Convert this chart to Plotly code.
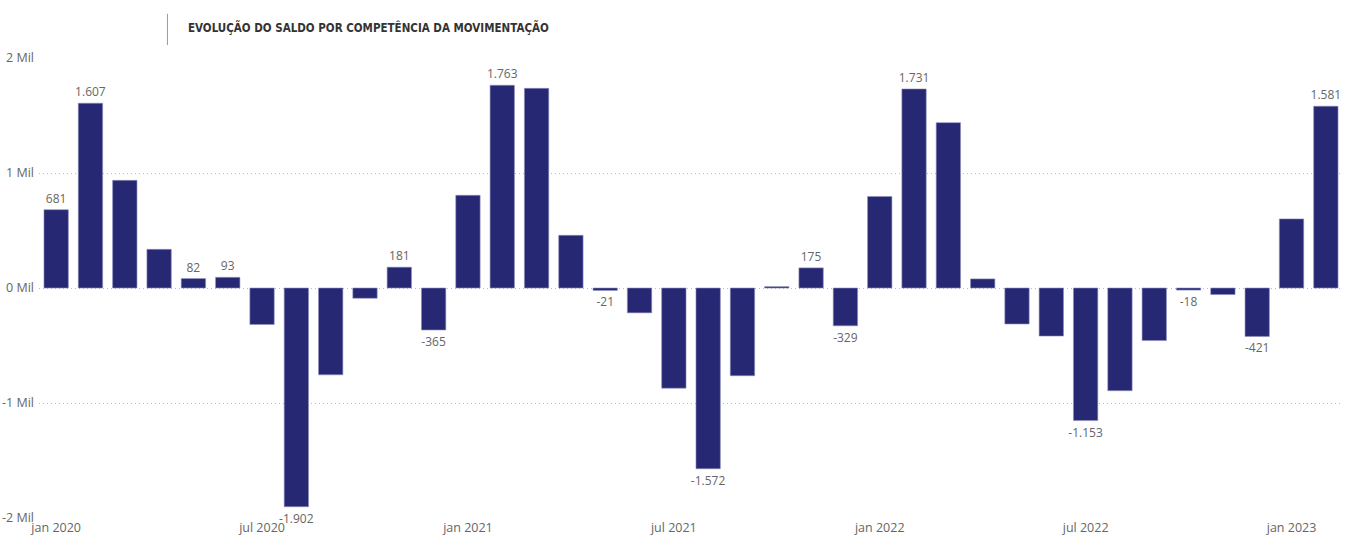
import plotly.graph_objects as go

# meses (competência) e saldo da movimentação
meses = ['jan', 'fev', 'mar', 'abr', 'mai', 'jun', 'jul', 'ago', 'set', 'out', 'nov', 'dez']
periodos = [m + ' ' + str(a) for a in (2020, 2021, 2022) for m in meses] + ['jan 2023', 'fev 2023']

saldo = [681, 1607, 936, 336, 82, 93, -317, -1902, -755, -89, 181, -365,
         806, 1763, 1736, 458, -21, -216, -871, -1572, -763, 12, 175, -329,
         796, 1731, 1438, 79, -313, -418, -1153, -893, -457, -18, -57, -421,
         601, 1581]

# quais barras mostram rótulo de dados
rotulo = [1, 1, 0, 0, 1, 1, 0, 1, 0, 0, 1, 1,
          0, 1, 0, 0, 1, 0, 0, 1, 0, 0, 1, 1,
          0, 1, 0, 0, 0, 0, 1, 0, 0, 1, 0, 1,
          0, 1]

ticks_x = ['jan 2020', 'jul 2020', 'jan 2021', 'jul 2021', 'jan 2022', 'jul 2022', 'jan 2023']
ticks_y = [-2000, -1000, 0, 1000, 2000]
ticks_y_txt = ['-2 Mil', '-1 Mil', '0 Mil', '1 Mil', '2 Mil']


def fmt(v):
    return '{:,}'.format(v).replace(',', '.')


textos = [fmt(v) if r else '' for v, r in zip(saldo, rotulo)]

fig = go.Figure(go.Bar(
    x=periodos, y=saldo, text=textos, textposition='outside', constraintext='none',
    marker=dict(color='#262873', line=dict(color='#8f91c0', width=0.6)),
    textfont=dict(family='Open Sans', size=12, color='#666666'),
    cliponaxis=False,
))

fig.update_layout(
    width=1357, height=543,
    margin=dict(l=39, r=14, t=58, b=25),
    plot_bgcolor='white', paper_bgcolor='white',
    bargap=0.29, showlegend=False,
    font=dict(family='Open Sans', color='#666666'),
    shapes=[dict(type='line', xref='paper', yref='paper', x0=0.0985, x1=0.0985,
                 y0=1.028, y1=1.096, line=dict(color='#999999', width=1))],
    annotations=[dict(text='<b>EVOLUÇÃO DO SALDO POR COMPETÊNCIA DA MOVIMENTAÇÃO</b>',
                      xref='paper', yref='paper', x=0.1128, y=1.067, xanchor='left', yanchor='middle',
                      showarrow=False, font=dict(family='DejaVu Sans Condensed', size=11.5, color='#333333'))],
)
fig.update_xaxes(tickmode='array', tickvals=ticks_x, ticktext=ticks_x,
                 tickfont=dict(size=12.5, color='#666666'), showgrid=False, ticks='', automargin=False,
                 range=[-0.5, len(periodos) - 0.5])
fig.update_yaxes(range=[-2000, 2000], tickvals=ticks_y, ticktext=ticks_y_txt,
                 tickfont=dict(size=12.5, color='#666666'), showgrid=True, gridcolor='#bdbdbd',
                 griddash='1px,3px', gridwidth=1, zeroline=False, automargin=False, ticklabelstandoff=4)

# tira a margem padrão do body para o gráfico ocupar a janela inteira
fig.write_html('out.html', config={'displayModeBar': False},
               post_script="document.body.style.margin='0';")
